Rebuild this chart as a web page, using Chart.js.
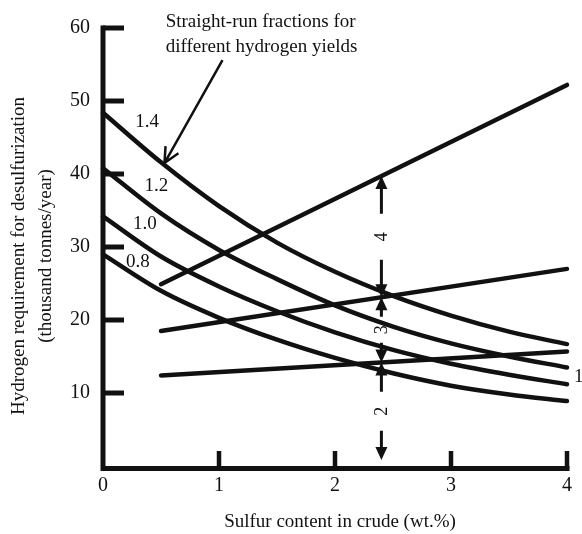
<!DOCTYPE html>
<html lang="en">
<head>
<meta charset="UTF-8">
<title>Hydrogen requirement for desulfurization</title>
<script src="https://cdn.jsdelivr.net/npm/chart.js@4.4.1/dist/chart.umd.min.js"></script>
<style>
    body { margin: 0; background: #fff; }
    #chart { display: block; }
</style>
</head>
<body>
<canvas id="chart" width="582" height="534"></canvas>
<script>
    // sulfur content in crude (wt.%) where the curves were read
    const sulfur = [0, 0.5, 1, 1.5, 2, 2.5, 3, 3.5, 4];
    // hydrogen requirement (thousand tonnes/year), one curve per hydrogen yield
    const yield14 = [48.4, 41.6, 35.6, 30.6, 26.6, 23.3, 20.6, 18.4, 16.7];
    const yield12 = [40.8, 34.6, 29.6, 25.6, 22.0, 19.1, 16.8, 15.0, 13.5];
    const yield10 = [34.2, 28.7, 24.6, 21.2, 18.3, 15.9, 14.0, 12.5, 11.2];
    const yield08 = [29.0, 24.0, 20.3, 17.3, 14.8, 12.7, 11.0, 9.8, 8.9];
    const yieldLabels = ['1.4', '1.2', '1.0', '0.8'];

    // straight-run fraction lines (end points)
    const lineSulfur = [0.5, 4];
    const lineTop = [24.9, 52.2];
    const lineMid = [18.5, 27.0];
    const lineLow = [12.4, 15.7];

    const xTicks = [0, 1, 2, 3, 4];
    const yTicks = [10, 20, 30, 40, 50, 60];

    // intervals marked at this sulfur content
    const markSulfur = 2.4;
    const markLabels = ['4', '3', '2'];

    const curves = [yield14, yield12, yield10, yield08];
    const lines = [lineTop, lineMid, lineLow];

    function lineAt(vals, s) {
        const t = (s - lineSulfur[0]) / (lineSulfur[1] - lineSulfur[0]);
        return vals[0] + t * (vals[1] - vals[0]);
    }

    const datasets = [];
    curves.forEach((vals, i) => {
        datasets.push({
            label: yieldLabels[i],
            data: sulfur.map((s, j) => ({ x: s, y: vals[j] })),
            cubicInterpolationMode: 'monotone'
        });
    });
    lines.forEach((vals, i) => {
        datasets.push({
            label: 'line ' + i,
            data: lineSulfur.map((s, j) => ({ x: s, y: vals[j] }))
        });
    });
    datasets.forEach(d => {
        d.borderColor = '#111';
        d.borderWidth = 4.5;
        d.pointRadius = 0;
        d.borderCapStyle = 'round';
        d.clip = 6;
    });

    const SERIF = '"Liberation Serif", "DejaVu Serif", serif';

    function arrowHead(ctx, x, y, dir, len, half) {
        // filled triangle, tip at (x, y), dir = -1 up, 1 down
        ctx.beginPath();
        ctx.moveTo(x, y);
        ctx.lineTo(x - half, y - dir * len);
        ctx.lineTo(x + half, y - dir * len);
        ctx.closePath();
        ctx.fill();
    }

    const decor = {
        id: 'decor',
        afterDatasetsDraw(chart) {
            const { ctx, chartArea: a, scales: { x, y } } = chart;
            ctx.save();
            ctx.strokeStyle = '#111';
            ctx.fillStyle = '#111';

            // axes
            ctx.lineWidth = 5;
            ctx.beginPath();
            ctx.moveTo(a.left, y.getPixelForValue(60) - 2.5);
            ctx.lineTo(a.left, a.bottom + 2.5);
            ctx.lineTo(a.right + 2.5, a.bottom + 2.5);
            ctx.stroke();

            // inward ticks
            yTicks.forEach(v => {
                const py = y.getPixelForValue(v);
                ctx.beginPath();
                ctx.moveTo(a.left, py);
                ctx.lineTo(a.left + 21, py);
                ctx.stroke();
            });
            ctx.lineWidth = 4.5;
            xTicks.forEach(v => {
                if (v === 0) return;
                const px = x.getPixelForValue(v);
                ctx.beginPath();
                ctx.moveTo(px, a.bottom + 2.5);
                ctx.lineTo(px, a.bottom - 15);
                ctx.stroke();
            });

            // tick labels
            ctx.font = '20px ' + SERIF;
            ctx.textAlign = 'right';
            ctx.textBaseline = 'middle';
            yTicks.forEach(v => ctx.fillText(String(v), a.left - 13, y.getPixelForValue(v)));
            ctx.textAlign = 'center';
            xTicks.forEach(v => ctx.fillText(String(v), x.getPixelForValue(v), a.bottom + 20));

            // axis titles
            ctx.font = '19px ' + SERIF;
            ctx.fillText('Sulfur content in crude (wt.%)', 340, a.bottom + 56);
            ctx.save();
            ctx.translate(19, 256);
            ctx.rotate(-Math.PI / 2);
            ctx.fillText('Hydrogen requirement for desulfurization', 0, 0);
            ctx.fillText('(thousand tonnes/year)', 0, 27);
            ctx.restore();

            // curve labels
            const labelPos = [[0.38, 47.1], [0.46, 38.3], [0.36, 33.1], [0.30, 27.9]];
            ctx.font = '19px ' + SERIF;
            yieldLabels.forEach((t, i) => {
                ctx.fillText(t, x.getPixelForValue(labelPos[i][0]), y.getPixelForValue(labelPos[i][1]));
            });
            ctx.textAlign = 'left';
            ctx.fillText('1', x.getPixelForValue(4) + 7, y.getPixelForValue(12.2));

            // note and pointer
            const nx = x.getPixelForValue(0.54);
            ctx.fillText('Straight-run fractions for', nx, y.getPixelForValue(60.8));
            ctx.fillText('different hydrogen yields', nx, y.getPixelForValue(57.4));
            const sx = x.getPixelForValue(1.03), sy = y.getPixelForValue(55.6);
            const tx = x.getPixelForValue(0.53), ty = y.getPixelForValue(41.5);
            ctx.lineWidth = 2.5;
            ctx.beginPath();
            ctx.moveTo(sx, sy);
            ctx.lineTo(tx, ty);
            const ang = Math.atan2(ty - sy, tx - sx);
            ctx.moveTo(tx - 17 * Math.cos(ang - 0.45), ty - 17 * Math.sin(ang - 0.45));
            ctx.lineTo(tx, ty);
            ctx.lineTo(tx - 17 * Math.cos(ang + 0.45), ty - 17 * Math.sin(ang + 0.45));
            ctx.stroke();

            // dimension arrows between the straight-run lines
            const mx = x.getPixelForValue(markSulfur);
            const levels = lines.map(v => lineAt(v, markSulfur)).concat([0]);
            ctx.lineWidth = 3;
            ctx.font = '18px ' + SERIF;
            ctx.textAlign = 'center';
            for (let i = 0; i < markLabels.length; i++) {
                const top = y.getPixelForValue(levels[i]);
                const bot = y.getPixelForValue(levels[i + 1]) - (i === markLabels.length - 1 ? 6 : 0);
                const mid = (top + bot) / 2;
                const gap = Math.min(23, (bot - top) / 5);
                ctx.beginPath();
                ctx.moveTo(mx, top + 10);
                ctx.lineTo(mx, mid - gap);
                ctx.moveTo(mx, mid + gap);
                ctx.lineTo(mx, bot - 10);
                ctx.stroke();
                arrowHead(ctx, mx, top, -1, 13, 6);
                arrowHead(ctx, mx, bot, 1, 13, 6);
                ctx.save();
                ctx.translate(mx, mid);
                ctx.rotate(-Math.PI / 2);
                ctx.fillText(markLabels[i], 0, 1);
                ctx.restore();
            }
            ctx.restore();
        }
    };

    new Chart(document.getElementById('chart').getContext('2d'), {
        type: 'line',
        data: { datasets: datasets },
        options: {
            responsive: false,
            animation: false,
            layout: { padding: { left: 103, right: 15, top: 28, bottom: 68 } },
            scales: {
                x: { type: 'linear', min: 0, max: 4, display: false },
                y: { min: 0, max: 60, display: false }
            },
            plugins: {
                legend: { display: false },
                tooltip: { enabled: false }
            }
        },
        plugins: [decor]
    });
</script>
</body>
</html>
